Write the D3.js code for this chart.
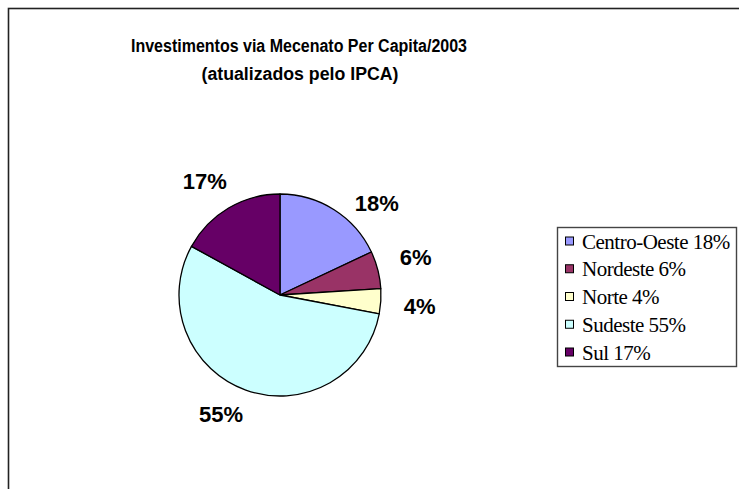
<!DOCTYPE html>
<html>
<head>
<meta charset="utf-8">
<script src="https://cdn.jsdelivr.net/npm/d3@7"></script>
<style>
  html, body { margin: 0; padding: 0; background: #fff; }
  svg { display: block; }
</style>
</head>
<body>
<svg id="chart" width="739" height="489"></svg>
<script>
// Regional share of cultural sponsorship investment per capita, 2003
const regions = ["Centro-Oeste", "Nordeste", "Norte", "Sudeste", "Sul"];
const shares = [18, 6, 4, 55, 17];
const legendNames = ["Centro-Oeste 18%", "Nordeste 6%", "Norte 4%", "Sudeste 55%", "Sul 17%"];
const sliceColors = ["#9999ff", "#993366", "#ffffcc", "#ccffff", "#660066"];
const titleLines = ["Investimentos via Mecenato Per Capita/2003", "(atualizados pelo IPCA)"];

const svg = d3.select("#chart");
const W = 739, H = 489;

// outer chart frame (runs off the right and bottom edges)
svg.append("rect")
  .attr("x", 8.5).attr("y", 8.5)
  .attr("width", W + 20).attr("height", H + 20)
  .attr("fill", "#fff")
  .attr("stroke", "#222").attr("stroke-width", 1.6);

// title
const title = svg.append("g")
  .attr("font-family", "'Liberation Sans', Arial, sans-serif")
  .attr("font-weight", "bold")
  .attr("font-size", 17.5)
  .attr("fill", "#000")
  .attr("text-anchor", "middle");
title.append("text").attr("x", 299).attr("y", 52)
  .attr("textLength", 336).attr("lengthAdjust", "spacingAndGlyphs")
  .text(titleLines[0]);
title.append("text").attr("x", 300).attr("y", 80)
  .attr("textLength", 197).attr("lengthAdjust", "spacingAndGlyphs")
  .text(titleLines[1]);

// pie
const cx = 280, cy = 295, radius = 101;
const data = regions.map((r, i) => ({ region: r, value: shares[i], color: sliceColors[i] }));
const pie = d3.pie().value(d => d.value).sort(null).startAngle(0).endAngle(2 * Math.PI);
const arcs = pie(data);
const arc = d3.arc().innerRadius(0).outerRadius(radius);

const g = svg.append("g").attr("transform", `translate(${cx},${cy})`);
g.selectAll("path.slice")
  .data(arcs)
  .join("path")
  .attr("class", "slice")
  .attr("d", arc)
  .attr("fill", d => d.data.color)
  .attr("stroke", "#000")
  .attr("stroke-width", 1.3)
  .attr("stroke-linejoin", "round");

// percentage labels outside each slice
const labelRadius = 136;
const labelNudge = [[24, 23], [4, -4], [4, 2.5], [-13, -8.5], [-6, 4]];
g.selectAll("text.pct")
  .data(arcs)
  .join("text")
  .attr("class", "pct")
  .attr("x", (d, i) => Math.sin((d.startAngle + d.endAngle) / 2) * labelRadius + labelNudge[i][0])
  .attr("y", (d, i) => -Math.cos((d.startAngle + d.endAngle) / 2) * labelRadius + labelNudge[i][1])
  .attr("text-anchor", "middle")
  .attr("dominant-baseline", "central")
  .attr("font-family", "'Liberation Sans', Arial, sans-serif")
  .attr("font-weight", "bold")
  .attr("font-size", 22)
  .attr("fill", "#000")
  .text(d => d.data.value + "%");

// legend
const lx = 557.5, ly = 227.5, lw = 179, lh = 139;
const legend = svg.append("g");
legend.append("rect")
  .attr("x", lx).attr("y", ly).attr("width", lw).attr("height", lh)
  .attr("fill", "#fff").attr("stroke", "#444").attr("stroke-width", 1.4);

const rowY = d3.scalePoint().domain(legendNames).range([ly + 14, ly + 125]);
const rows = legend.selectAll("g.row")
  .data(legendNames.map((n, i) => ({ name: n, color: sliceColors[i] })))
  .join("g")
  .attr("class", "row")
  .attr("transform", d => `translate(0,${rowY(d.name)})`);
rows.append("rect")
  .attr("x", 565.5).attr("y", -4.5).attr("width", 8).attr("height", 8)
  .attr("fill", d => d.color).attr("stroke", "#000").attr("stroke-width", 1);
rows.append("text")
  .attr("x", 582).attr("y", 0)
  .attr("dominant-baseline", "central")
  .attr("font-family", "'Liberation Serif', 'Times New Roman', serif")
  .attr("font-size", 21)
  .attr("letter-spacing", -0.5)
  .attr("fill", "#000")
  .text(d => d.name);
</script>
</body>
</html>
